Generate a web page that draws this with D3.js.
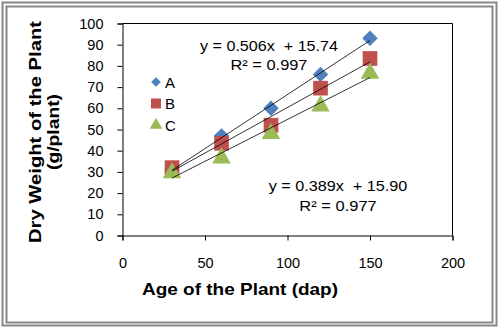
<!DOCTYPE html>
<html>
<head>
<meta charset="utf-8">
<script src="https://cdn.jsdelivr.net/npm/d3@7"></script>
<style>
  body { margin: 0; background: #fff; }
  text { font-family: "Liberation Sans", Arial, sans-serif; }
</style>
</head>
<body>
<script>
// data
const ages = [30, 60, 90, 120, 150];
const seriesA = [31, 47, 60, 76, 93];
const seriesB = [32, 43.5, 52, 69.5, 83.5];
const seriesC = [30, 37, 48.5, 61.5, 77];
const seriesNames = ['A', 'B', 'C'];
const xTicks = [0, 50, 100, 150, 200];
const yTicks = [0, 10, 20, 30, 40, 50, 60, 70, 80, 90, 100];
const eqA = ['y = 0.506x  + 15.74', 'R\u00b2 = 0.997'];
const eqC = ['y = 0.389x  + 15.90', 'R\u00b2 = 0.977'];

const W = 501, H = 331;
const M = { left: 122.5, right: 452.5, top: 23.5, bottom: 235.5 };

const svg = d3.select('body').append('svg')
  .attr('width', W).attr('height', H);

// double frame
svg.append('rect').attr('x', 2.5).attr('y', 2.5).attr('width', 494).attr('height', 323)
  .attr('fill', 'none').attr('stroke', '#878787').attr('stroke-width', 2);
svg.append('rect').attr('x', 6.5).attr('y', 6.5).attr('width', 486).attr('height', 316)
  .attr('fill', 'none').attr('stroke', '#878787').attr('stroke-width', 2);

// scales
const x = d3.scaleLinear().domain([0, 200]).range([M.left, M.right]);
const y = d3.scaleLinear().domain([0, 100]).range([M.bottom, M.top]);

// plot box (top/right)
svg.append('path')
  .attr('d', `M${M.left},${M.top}H${M.right}V${M.bottom}`)
  .attr('fill', 'none').attr('stroke', '#000').attr('stroke-width', 1);

// axes
const xAxis = d3.axisBottom(x).tickValues(xTicks).tickSize(5).tickPadding(17.5);
const yAxis = d3.axisLeft(y).tickValues(yTicks).tickSize(5).tickPadding(14);

const gx = svg.append('g').attr('transform', `translate(0,${M.bottom})`).call(xAxis);
const gy = svg.append('g').attr('transform', `translate(${M.left},0)`).call(yAxis);
[gx, gy].forEach(g => {
  g.select('.domain').attr('stroke', '#000');
  g.selectAll('.tick line').attr('stroke', '#000');
  g.selectAll('.tick text').attr('font-size', 14.5).attr('fill', '#000')
   .style('font-family', '"Liberation Sans", Arial, sans-serif');
});

// markers
const colors = { A: '#4F81BD', B: '#C0504D', C: '#9BBB59' };
const symbols = { A: d3.symbolDiamond, B: d3.symbolSquare, C: d3.symbolTriangle };
const sizes = { A: 115, B: 215, C: 150 };
const legendSizes = { A: 45, B: 100, C: 70 };
const allSeries = { A: seriesA, B: seriesB, C: seriesC };

function symbolPath(name, size) {
  if (name === 'A') {
    // wider diamond, like Excel
    const s = Math.sqrt(size) * 0.72;
    return `M0,${-s}L${s},0L0,${s}L${-s},0Z`;
  }
  return d3.symbol().type(symbols[name]).size(size)();
}

seriesNames.forEach(name => {
  svg.append('g').selectAll('path')
    .data(allSeries[name])
    .enter().append('path')
    .attr('transform', (d, i) => `translate(${x(ages[i])},${y(d) + (name === 'C' ? 1 : 0)})`)
    .attr('d', symbolPath(name, sizes[name]))
    .attr('fill', colors[name]);
});

// trendlines (least squares)
function fit(vals) {
  const mx = d3.mean(ages), my = d3.mean(vals);
  let num = 0, den = 0;
  ages.forEach((a, i) => { num += (a - mx) * (vals[i] - my); den += (a - mx) * (a - mx); });
  const m = num / den;
  return { m: m, b: my - m * mx };
}
seriesNames.forEach(name => {
  const f = fit(allSeries[name]);
  const x0 = d3.min(ages), x1 = d3.max(ages);
  svg.append('line')
    .attr('x1', x(x0)).attr('y1', y(f.m * x0 + f.b))
    .attr('x2', x(x1)).attr('y2', y(f.m * x1 + f.b))
    .attr('stroke', '#000').attr('stroke-width', 0.8);
});

// legend
seriesNames.forEach((name, i) => {
  const ly = 82 + i * 21.5;
  svg.append('path')
    .attr('transform', `translate(156,${ly})`)
    .attr('d', symbolPath(name, legendSizes[name]))
    .attr('fill', colors[name]);
  svg.append('text').attr('x', 165).attr('y', ly + 5.5)
    .attr('font-size', 15).text(name);
});

// equations
function eq(lines, cx, by, lens) {
  lines.forEach((t, i) => {
    svg.append('text').attr('x', cx - lens[i] / 2).attr('y', by + i * 19.5)
      .attr('font-size', 15)
      .attr('textLength', lens[i]).attr('lengthAdjust', 'spacingAndGlyphs')
      .style('white-space', 'pre').text(t);
  });
}
eq(eqA, 269, 50.5, [138, 77]);
eq(eqC, 338, 191, [138.5, 77.5]);

// axis titles
svg.append('text').attr('x', 240 - 98).attr('y', 294.5)
  .attr('font-size', 17).attr('font-weight', 'bold')
  .attr('textLength', 196).attr('lengthAdjust', 'spacingAndGlyphs')
  .text('Age of the Plant (dap)');
svg.append('text').attr('transform', 'translate(40.5,243) rotate(-90)')
  .attr('font-size', 17).attr('font-weight', 'bold')
  .attr('textLength', 222).attr('lengthAdjust', 'spacingAndGlyphs')
  .text('Dry Weight of the Plant');
svg.append('text').attr('transform', 'translate(58.5,170) rotate(-90)')
  .attr('font-size', 17).attr('font-weight', 'bold')
  .attr('textLength', 76).attr('lengthAdjust', 'spacingAndGlyphs')
  .text('(g/plant)');
</script>
</body>
</html>
